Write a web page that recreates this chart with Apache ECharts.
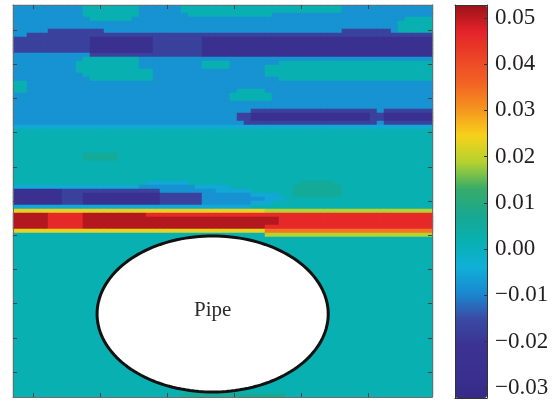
<!DOCTYPE html>
<html>
<head>
<meta charset="utf-8">
<script src="https://cdn.jsdelivr.net/npm/echarts@6/dist/echarts.min.js"></script>
<style>html,body{margin:0;padding:0;background:#fff}#chart1{width:557px;height:408px}</style>
</head>
<body>
<div id="chart1"></div>
<script>
// value of each colour level seen in the field
var levelValue = {K:0.051, R:0.046, O:0.034, Y:0.023, g:0.019, G:0.006, T:0.0015, C:-0.005, B:-0.008, M:-0.017, D:-0.026};

// field read row by row from the top, 60 cells per row: [repeat, row]
var fieldBands = [
    [2,  "BBBBBBBBBB TTTTTTTTBB BBBBTTTTTT TTTTTTTTTT TTTTTTTBBB BBBBBBBBBB"],
    [1,  "BBBBBBBBBB TTTTTTTTBB BBBBBTTTTT TTTTTTTBBB BBBBBBBBBB BBBBBBBBBB"],
    [1,  "BBBBBBBBBB BTTTTTTBBB BBBBBBBBBB BBBBBBBBBB BBBBBBBBBB BBBBBBTTTT"],
    [2,  "BBBBBBBBBB BBBBBBBBBB BBBBBBBBBB BBBBBBBBBB BBBBBBBBBB BBBBBTTTTT"],
    [1,  "BBBBBMMMMM MMMBBBBBBB BBBBBBBBBB BBBBBBBBBB BBBBBBBMMM MMMMBTTTTT"],
    [1,  "BBMMMMMMMM MMMMMMMMMM MMMMMMMMMM MMMMMMMMMM MMMMMMMMMM MMMMMMMMMM"],
    [4,  "MMMMMMMMMM MDDDDDDDDD MMMMMMMDDD DDDDDDDDDD DDDDDDDDDD DDDDDDDDDD"],
    [1,  "BBBBBBBBBB BMMMMMMMMM MMMMMMMDDD DDDDDDDDDD DDDDDDDDDD DDDDDDDDDD"],
    [1,  "BBBBBBBBBB TTTTTTTTBB BBBBBBBBBB BBBBBBBBBB BBBBBBBBBB BBBBBBBBBB"],
    [1,  "BBBBBBBBBT TTTTTTTTBB BBBBBBBTTT TBBBBBBBTT TTTTTTTTTT TTTTTTTTTT"],
    [1,  "BBBBBBBBBT TTTTTTTTBB BBBBBBBTTT TBBBBBTTTT TTTTTTTTTT TTTTTTTTTT"],
    [1,  "BBBBBBBBBT TTTTTTTTTT BBBBBBBBBB BBBBBBTTTT TTTTTTTTTT TTTTTTTTTT"],
    [1,  "BBBBBBBBBB TTTTTTTTTT BBBBBBBBBB BBBBBBTTTT TTTTTTTTTT TTTTTTTTTT"],
    [1,  "BBBBBBBBBB BTTTTTTTTT BBBBBBBBBB BBBBBBBBTT TTTTTTTTTT TTTTTTTTTT"],
    [2,  "TTBBBBBBBB BBBBBBBBBB BBBBBBBBBB BBBBBBBBBB BBBBBBBBBB BBBBBBBBBB"],
    [1,  "TTBBBBBBBB BBBBBBBBBB BBBBBBBBBB BBTTTTBBBB BBBBBBBBBB BBBBBBBBBB"],
    [2,  "BBBBBBBBBB BBBBBBBBBB BBBBBBBBBB BTTTTTTBBB BBBBBBBBBB BBBBBBBBBB"],
    [2,  "BBBBBBBBBB BBBBBBBBBB BBBBBBBBBB BBBBBBBBBB BBBBBBBBBB BBBBBBBBBB"],
    [1,  "BBBBBBBBBB BBBBBBBBBB BBBBBBBBBB BBBBMMMMMM MMMMMMMMMM MMBMMMMMMM"],
    [2,  "BBBBBBBBBB BBBBBBBBBB BBBBBBBBBB BBMMDDDDDD DDDDDDDDDD DMMDDDDDDD"],
    [1,  "BBBBBBBBBB BBBBBBBBBB BBBBBBBBBB BBBMMMMMMM MMMMMMMMMM MMBMMMMMMM"],
    [1,  "CCCCCCCCCC CCCCCCCCCC CCCCCCCCCC CCCCCCCCCC CCCCCCCCCC CCCCCCCCCC"],
    [6,  "TTTTTTTTTT TTTTTTTTTT TTTTTTTTTT TTTTTTTTTT TTTTTTTTTT TTTTTTTTTT"],
    [2,  "TTTTTTTTTT GGGGGTTTTT TTTTTTTTTT TTTTTTTTTT TTTTTTTTTT TTTTTTTTTT"],
    [5,  "TTTTTTTTTT TTTTTTTTTT TTTTTTTTTT TTTTTTTTTT TTTTTTTTTT TTTTTTTTTT"],
    [1,  "TTTTTTTTTT TTTTTTTTTC CCCCCTTTTT TTTTTTTTTT TGGGGGTTTT TTTTTTTTTT"],
    [1,  "CCCCCCCCCC CCCCCCCCBB BBBBBBCCCC CTTTTTTTTT GGGGGGGTTT TTTTTTTTTT"],
    [1,  "DDDDDDDMMM MMMMMMMMMM MBBBBBBBBC CCCCTTTTTT GGGGGGGTTT TTTTTTTTTT"],
    [1,  "DDDDDDDMMM DDDDDDDDDD DMMMMMMBBB BBBBCCCCTT GGGGGGGTTT TTTTTTTTTT"],
    [1,  "DDDDDDDMMM DDDDDDDDDD DMMMMMMBBB BBBBBBCCCT TTTTTTTTTT TTTTTTTTTT"],
    [1,  "DDDDDDDMMM DDDDDDDDDD DMMMMMMBBB BBBBCCCTTT TTTTTTTTTT TTTTTTTTTT"],
    [1,  "CCCCCCCCCC CCCCCCCCCC CCCCCCCCCC CCCCTTTTTT TTTTTTTTTT TTTTTTTTTT"],
    [1,  "YYYYYYYYYY YYYYYYYYYY YYYYYYYYYY YYYYYYgggg gggggggggg gggggggggg"],
    [1,  "KKKKKRRRRR KKKKKKKKKR RRRRRRRRRR RRRRRRRRRR RRRRRRRRRR RRRRRRRRRR"],
    [2,  "KKKKKRRRRR KKKKKKKKKK KKKKKKKKKK KKKKKKKKRR RRRRRRRRRR RRRRRRRRRR"],
    [1,  "KKKKKRRRRR KKKKKKKKKK KKKKKKKKKK KKKKKKRRRR RRRRRRRRRR RRRRRRRRRR"],
    [1,  "YYYYYYYYYY YYYYYYYYYY YYYYYYYYYY YYYYYYOOOO OOOOOOOOOO OOOOOOOOOO"],
    [1,  "TTTTTTTTTT TTTTTTTTTT TTTTTTTTTT TTTTTTgggg gggggggggg gggggggggg"],
    [39, "TTTTTTTTTT TTTTTTTTTT TTTTTTTTTT TTTTTTTTTT TTTTTTTTTT TTTTTTTTTT"],
    [1,  "TTTTTTTTTT TTTTTTTTTT TTTTGGGGGG GGGGGGGGGT TTTTTTTTTT TTTTTTTTTT"]
];

var cbTicks = [-0.03, -0.02, -0.01, 0, 0.01, 0.02, 0.03, 0.04, 0.05];
var cbMin = -0.0322, cbMax = 0.0528;
// colour bar, bottom to top
var cbColors = ["#352a86","#3a3090","#3b3292","#3a4aa4","#1a88d0","#10b0d8","#08b0b0","#18a890",
                "#38ac68","#b4d230","#f7d21a","#f5961e","#f26424","#ec4426","#e4222a","#9a1418"];

// plot frame units and tick marks
var xMax = 6.25, yMax = 11.46;
var xTicks = [0.3, 1.3, 2.3, 3.3, 4.3, 5.3];
var yTicks = [0.73, 1.73, 2.73, 3.73, 4.73, 5.73, 6.73, 7.73, 8.73, 9.73, 10.73];
// pipe: centre x, centre y, half width, half height
var pipe = [2.978, 2.427, 1.724, 2.281];

var fieldRows = [];
fieldBands.forEach(function (b) {
    for (var k = 0; k < b[0]; k++) fieldRows.push(b[1].replace(/ /g, ""));
});
var colCats = [], rowCats = [], heatData = [];
for (var c = 0; c < fieldRows[0].length; c++) colCats.push(String(c));
fieldRows.forEach(function (row, r) {
    rowCats.push(String(r));
    for (var c = 0; c < row.length; c++) heatData.push([c, r, levelValue[row[c]]]);
});

var serif = "Liberation Serif";
var frameLine = {show: true, onZero: false, lineStyle: {color: "#6e6e6e", width: 1}};
var inTick = function (vals) {
    return {show: true, inside: true, length: 4, customValues: vals, lineStyle: {color: "#444"}};
};
var plainAxis = function (o) {
    var base = {type: "value", z: 10, splitLine: {show: false}, axisLabel: {show: false}, axisTick: {show: false}};
    for (var k in o) base[k] = o[k];
    return base;
};
var cbLine = {show: true, onZero: false, lineStyle: {color: "#333", width: 1}};

var chart = echarts.init(document.getElementById("chart1"));
chart.setOption({
    animation: false,
    backgroundColor: "#fff",
    grid: [
        {left: 13, top: 5, width: 419, height: 392},
        {left: 455, top: 5, width: 32, height: 393},
        {left: 13, top: 5, width: 420, height: 392}   // heatmap cells: 7px x 4px
    ],
    xAxis: [
        {type: "category", gridIndex: 2, data: colCats, show: false},
        plainAxis({gridIndex: 0, position: "bottom", min: 0, max: xMax, axisLine: frameLine, axisTick: inTick(xTicks)}),
        plainAxis({gridIndex: 0, position: "top", min: 0, max: xMax, axisLine: frameLine, axisTick: inTick(xTicks)}),
        plainAxis({gridIndex: 1, position: "bottom", min: 0, max: 1, axisLine: cbLine}),
        plainAxis({gridIndex: 1, position: "top", min: 0, max: 1, axisLine: cbLine})
    ],
    yAxis: [
        {type: "category", gridIndex: 2, data: rowCats, inverse: true, show: false},
        plainAxis({gridIndex: 0, position: "left", min: 0, max: yMax, axisLine: frameLine, axisTick: inTick(yTicks)}),
        plainAxis({gridIndex: 0, position: "right", min: 0, max: yMax, axisLine: frameLine, axisTick: inTick(yTicks)}),
        plainAxis({gridIndex: 1, position: "right", min: cbMin, max: cbMax, axisLine: cbLine,
            axisTick: {show: true, inside: true, length: 3, customValues: cbTicks, lineStyle: {color: "#333"}},
            axisLabel: {show: true, customValues: cbTicks, margin: 8, color: "#231f20", fontFamily: serif, fontSize: 23,
                formatter: function (v) { return v.toFixed(2).replace("-", "\u2212"); }}}),
        plainAxis({gridIndex: 1, position: "left", min: cbMin, max: cbMax, axisLine: cbLine})
    ],
    visualMap: {
        type: "continuous", seriesIndex: 0, min: cbMin, max: cbMax,
        left: 455, top: 5, itemWidth: 32, itemHeight: 393, padding: 0,
        calculable: false, hoverLink: false,
        inRange: {color: cbColors}
    },
    series: [
        {type: "heatmap", xAxisIndex: 0, yAxisIndex: 0, data: heatData, progressive: 0, silent: true},
        {type: "custom", xAxisIndex: 1, yAxisIndex: 1, data: [pipe], silent: true, z: 5,
            renderItem: function (params, api) {
                var cx = api.value(0), cy = api.value(1), rx = api.value(2), ry = api.value(3);
                var pts = [];
                for (var k = 0; k < 160; k++) {
                    var t = k / 160 * Math.PI * 2;
                    pts.push(api.coord([cx + rx * Math.cos(t), cy + ry * Math.sin(t)]));
                }
                var ctr = api.coord([cx, cy]);
                return {type: "group", children: [
                    {type: "polygon", shape: {points: pts}, style: {fill: "#fff", stroke: "#111", lineWidth: 3}},
                    {type: "text", x: ctr[0], y: ctr[1] - 3, style: {text: "Pipe", fill: "#2b2b2b", fontSize: 21,
                        fontFamily: serif, align: "center", verticalAlign: "middle"}}
                ]};
            }
        }
    ]
});
</script>
</body>
</html>
